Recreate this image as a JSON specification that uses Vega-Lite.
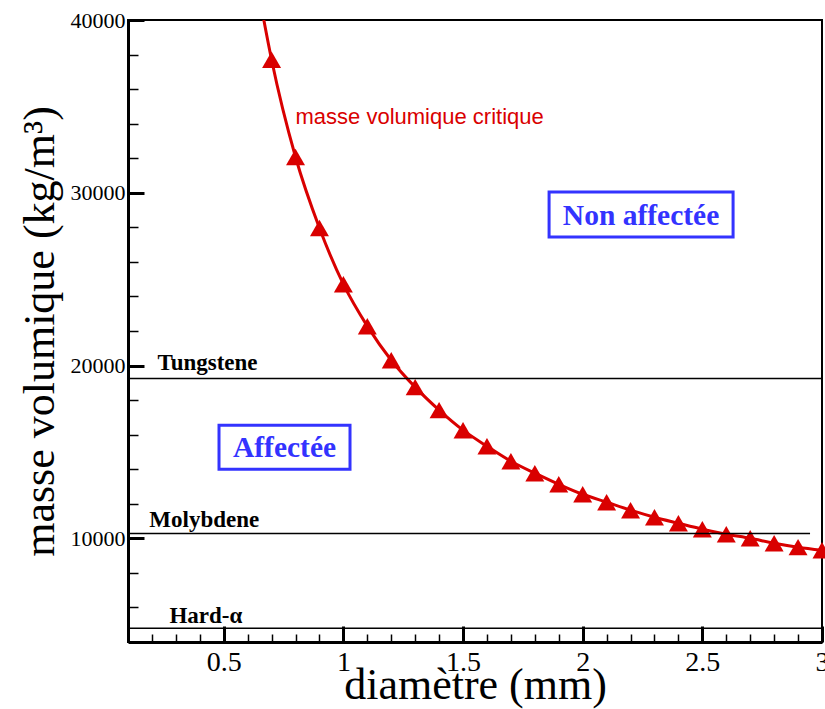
{
  "$schema": "https://vega.github.io/schema/vega-lite/v6.json",
  "width": 694,
  "height": 622,
  "autosize": "none",
  "padding": {"left": 128, "top": 20, "right": 3, "bottom": 67},
  "background": "white",
  "config": {
    "view": {"stroke": "black", "strokeWidth": 2},
    "axis": {"grid": false}
  },
  "datasets": {
    "curve": [
      {"d": 0.65, "rho": 41300},
      {"d": 0.7, "rho": 37700},
      {"d": 0.8, "rho": 32070},
      {"d": 0.9, "rho": 27960},
      {"d": 1.0, "rho": 24710},
      {"d": 1.1, "rho": 22280},
      {"d": 1.2, "rho": 20310},
      {"d": 1.3, "rho": 18750},
      {"d": 1.4, "rho": 17420},
      {"d": 1.5, "rho": 16260},
      {"d": 1.6, "rho": 15330},
      {"d": 1.7, "rho": 14460},
      {"d": 1.8, "rho": 13770},
      {"d": 1.9, "rho": 13130},
      {"d": 2.0, "rho": 12550},
      {"d": 2.1, "rho": 12090},
      {"d": 2.2, "rho": 11630},
      {"d": 2.3, "rho": 11220},
      {"d": 2.4, "rho": 10870},
      {"d": 2.5, "rho": 10530},
      {"d": 2.6, "rho": 10240},
      {"d": 2.7, "rho": 10000},
      {"d": 2.8, "rho": 9720},
      {"d": 2.9, "rho": 9490},
      {"d": 3.0, "rho": 9310}
    ],
    "materials": [
      {"name": "Tungstene", "rho": 19250, "dmin": 0.1, "dmax": 3.0, "ld": 0.223, "lrho": 19734},
      {"name": "Molybdene", "rho": 10280, "dmin": 0.1, "dmax": 2.95, "ld": 0.189, "lrho": 10643},
      {"name": "Hard-α", "rho": 4790, "dmin": 0.1, "dmax": 3.0, "ld": 0.273, "lrho": 5084}
    ],
    "regions": [
      {"label": "Non affectée", "d": 2.244, "rho": 28738},
      {"label": "Affectée", "d": 0.754, "rho": 15275}
    ],
    "notes": [
      {"label": "masse volumique critique", "d": 0.80, "rho": 34400}
    ]
  },
  "layer": [
    {
      "data": {"name": "curve"},
      "mark": {"type": "line", "color": "#d90000", "strokeWidth": 3, "interpolate": "monotone", "clip": true},
      "encoding": {
        "x": {
          "field": "d", "type": "quantitative",
          "scale": {"domain": [0.1, 3.0], "nice": false, "zero": false},
          "axis": {
            "orient": "bottom",
            "values": [0.5, 1, 1.5, 2, 2.5, 3], "format": "~g",
            "tickSize": -16, "tickWidth": 3, "tickColor": "black",
            "domainWidth": 3, "domainColor": "black",
            "labelFont": "Liberation Serif", "labelFontSize": 28, "labelColor": "black",
            "labelPadding": 22, "labelFlush": false, "labelOverlap": false,
            "title": "diamètre (mm)", "titleFont": "Liberation Serif", "titleFontSize": 44,
            "titleFontWeight": "normal", "titleColor": "black", "titlePadding": -13
          }
        },
        "y": {
          "field": "rho", "type": "quantitative",
          "scale": {"domain": [4000, 40000], "nice": false, "zero": false},
          "axis": {
            "orient": "left",
            "values": [10000, 20000, 30000, 40000], "format": "d",
            "tickSize": -16, "tickWidth": 3, "tickColor": "black",
            "domainWidth": 3, "domainColor": "black",
            "labelFont": "Liberation Serif", "labelFontSize": 22, "labelColor": "black",
            "labelPadding": 19, "labelFlush": false, "labelOverlap": false,
            "title": "masse volumique (kg/m³)", "titleFont": "Liberation Serif", "titleFontSize": 44,
            "titleFontWeight": "normal", "titleColor": "black", "titlePadding": 8
          }
        }
      }
    },
    {
      "data": {"name": "curve"},
      "transform": [{"filter": "datum.d >= 0.7"}],
      "mark": {"type": "point", "shape": "triangle-up", "filled": true, "color": "#d90000", "size": 360, "opacity": 1},
      "encoding": {
        "x": {
          "field": "d", "type": "quantitative",
          "axis": {
            "orient": "bottom",
            "values": [0.2, 0.3, 0.4, 0.6, 0.7, 0.8, 0.9, 1.1, 1.2, 1.3, 1.4, 1.6, 1.7, 1.8, 1.9, 2.1, 2.2, 2.3, 2.4, 2.6, 2.7, 2.8, 2.9],
            "tickSize": -8, "tickWidth": 1.5, "tickColor": "black",
            "domain": false, "labels": false, "title": null
          }
        },
        "y": {
          "field": "rho", "type": "quantitative",
          "axis": {
            "orient": "left",
            "values": [6000, 8000, 12000, 14000, 16000, 18000, 22000, 24000, 26000, 28000, 32000, 34000, 36000, 38000],
            "tickSize": -10, "tickWidth": 1.5, "tickColor": "black",
            "domain": false, "labels": false, "title": null
          }
        }
      }
    },
    {
      "data": {"name": "materials"},
      "mark": {"type": "rule", "color": "black", "strokeWidth": 1.5},
      "encoding": {
        "x": {"field": "dmin", "type": "quantitative", "axis": null},
        "x2": {"field": "dmax"},
        "y": {"field": "rho", "type": "quantitative", "axis": null}
      }
    },
    {
      "data": {"name": "materials"},
      "mark": {"type": "text", "align": "left", "baseline": "alphabetic", "font": "Liberation Serif", "fontWeight": "bold", "fontSize": 23, "color": "black"},
      "encoding": {
        "x": {"field": "ld", "type": "quantitative", "axis": null},
        "y": {"field": "lrho", "type": "quantitative", "axis": null},
        "text": {"field": "name"}
      }
    },
    {
      "data": {"name": "regions"},
      "transform": [{"filter": "datum.label == 'Non affectée'"}],
      "mark": {"type": "point", "shape": "M-1,-0.2446L1,-0.2446L1,0.2446L-1,0.2446Z", "size": 33856, "filled": false, "stroke": "#3333ff", "strokeWidth": 3, "fill": "white", "opacity": 1},
      "encoding": {
        "x": {"field": "d", "type": "quantitative", "axis": null},
        "y": {"field": "rho", "type": "quantitative", "axis": null}
      }
    },
    {
      "data": {"name": "regions"},
      "transform": [{"filter": "datum.label == 'Affectée'"}],
      "mark": {"type": "point", "shape": "M-1,-0.336L1,-0.336L1,0.336L-1,0.336Z", "size": 17161, "filled": false, "stroke": "#3333ff", "strokeWidth": 3, "fill": "white", "opacity": 1},
      "encoding": {
        "x": {"field": "d", "type": "quantitative", "axis": null},
        "y": {"field": "rho", "type": "quantitative", "axis": null}
      }
    },
    {
      "data": {"name": "regions"},
      "mark": {"type": "text", "align": "center", "baseline": "middle", "font": "Liberation Serif", "fontWeight": "bold", "fontSize": 29.5, "color": "#3333ff", "dy": 1},
      "encoding": {
        "x": {"field": "d", "type": "quantitative", "axis": null},
        "y": {"field": "rho", "type": "quantitative", "axis": null},
        "text": {"field": "label"}
      }
    },
    {
      "data": {"name": "notes"},
      "mark": {"type": "text", "align": "left", "baseline": "middle", "font": "Liberation Sans", "fontSize": 22, "color": "#d90000"},
      "encoding": {
        "x": {"field": "d", "type": "quantitative", "axis": null},
        "y": {"field": "rho", "type": "quantitative", "axis": null},
        "text": {"field": "label"}
      }
    }
  ],
  "resolve": {"axis": {"x": "independent", "y": "independent"}}
}
